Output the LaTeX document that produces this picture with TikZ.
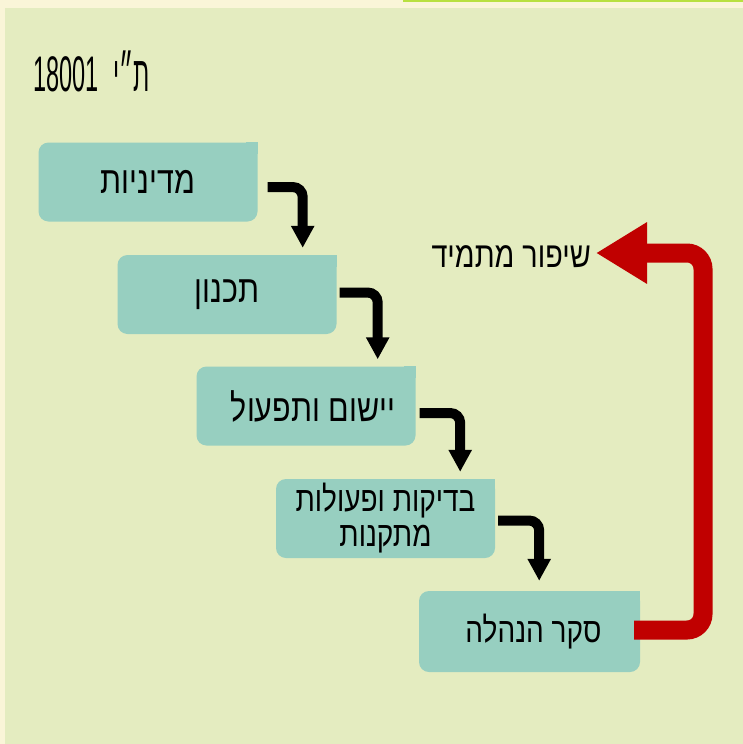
\documentclass[tikz,border=0pt]{standalone}
\usepackage{fontspec}
\usetikzlibrary{arrows.meta}
\TeXXeTstate=1
\newfontfamily\heb[Script=Hebrew,FakeStretch=0.8]{Liberation Sans}
\newfontfamily\hebtitle[Script=Hebrew,FakeStretch=0.47]{Liberation Sans}
\definecolor{cream}{RGB}{250,245,216}
\definecolor{bgc}{RGB}{228,236,192}
\definecolor{boxc}{RGB}{151,207,192}
\definecolor{redc}{RGB}{192,0,0}
\definecolor{topline}{RGB}{184,224,64}
\tikzset{
  stepbox/.style={rectangle, fill=boxc, rounded corners=10pt, inner sep=0pt,
    minimum width=219pt, minimum height=79pt, font=\heb\fontsize{38}{33}\selectfont, align=center},
  blk/.style={line width=10pt, black, rounded corners=10pt, -{Triangle[width=22pt,length=22pt]}},
  redarrow/.style={line width=19pt, redc, rounded corners=16pt, -{Triangle[width=58pt,length=51pt]}},
  lbl/.style={font=\heb\fontsize{36}{36}\selectfont, inner sep=0pt}
}
\begin{document}
\begin{tikzpicture}[x=1pt,y=-1pt]
\useasboundingbox (0,0) rectangle (743,744);
\fill[cream] (0,0) rectangle (743,744);
\fill[bgc] (5,8) rectangle (743,744);
\fill[topline] (403,0) rectangle (743,1.5);
% title
\node[anchor=west, font=\hebtitle\fontsize{50}{50}\selectfont, inner sep=0pt] (T) at (33,71) {18001 \,\beginR ת״י\endR};
% boxes
\node[stepbox] (B1) at (148,182) {\beginR מדיניות\endR};
\node[stepbox] (B2) at (227,294.5) {\beginR תכנון\endR};
\node[stepbox] (B3) at (306,406) {\hspace*{14pt}\beginR יישום ותפעול\endR};
\node[stepbox, font=\heb\fontsize{35}{35}\selectfont] (B4) at (385.5,518.5) {\beginR בדיקות ופעולות\endR\\\beginR מתקנות\endR};
\node[stepbox, minimum width=221pt, minimum height=81pt, font=\heb\fontsize{35}{35}\selectfont] (B5) at (529.5,631.5) {\hspace*{8pt}\beginR סקר הנהלה\endR};
% square top-right corners
\foreach \b in {B1,B2,B3,B4,B5}{
  \fill[boxc] (\b.north east) rectangle ([shift={(-12,12)}]\b.north east);
}
% black arrows
\draw[blk] ([shift={(10,5)}]B1.east) -| ([shift={(-34,-7)}]B2.north east);
\draw[blk] ([shift={(3,-2)}]B2.east) -| ([shift={(-38,-7)}]B3.north east);
\draw[blk] ([shift={(4,7)}]B3.east) -| ([shift={(-35,-7)}]B4.north east);
\draw[blk] ([shift={(3,2)}]B4.east) -| ([shift={(-101,-10)}]B5.north east);
% label and red arrow
\node[lbl, anchor=east] (L) at (591,257) {\beginR שיפור מתמיד\endR};
\coordinate (R1) at (703,253);
\draw[redarrow] ([shift={(-6,-1.5)}]B5.east) -| (R1) -- ([shift={(5,-4)}]L.east);
\end{tikzpicture}
\end{document}
